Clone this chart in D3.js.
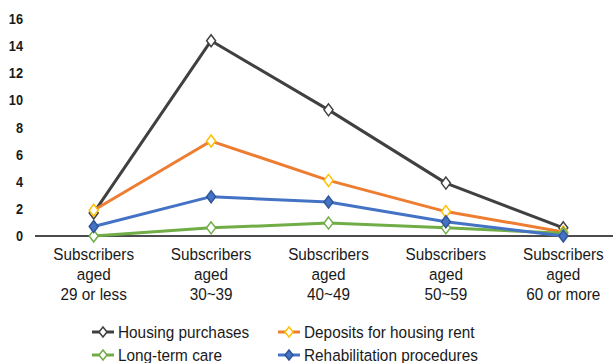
<!DOCTYPE html>
<html>
<head>
<meta charset="utf-8">
<script src="https://cdn.jsdelivr.net/npm/d3@7"></script>
<style>
  body { margin: 0; background: #fff; }
  text { font-family: "Liberation Sans", Arial, sans-serif; fill: #1a1a1a; }
</style>
</head>
<body>
<script>
var width = 613, height = 363

// data
var categories = ["29 or less", "30~39", "40~49", "50~59", "60 or more"]
var housing = [1.7, 14.4, 9.3, 3.9, 0.6]
var deposits = [1.9, 7.0, 4.1, 1.8, 0.3]
var longTerm = [0.0, 0.6, 0.95, 0.6, 0.2]
var rehab = [0.7, 2.9, 2.5, 1.05, 0.0]
var yTicks = [0, 2, 4, 6, 8, 10, 12, 14, 16]

var series = [
  {name: "Housing purchases", values: housing, line: "#404040", mark: "#404040", fill: "#fff"},
  {name: "Deposits for housing rent", values: deposits, line: "#ED7D31", mark: "#FFC000", fill: "#fff"},
  {name: "Long-term care", values: longTerm, line: "#70AD47", mark: "#70AD47", fill: "#fff"},
  {name: "Rehabilitation procedures", values: rehab, line: "#4472C4", mark: "#2F5597", fill: "#4472C4"}
]

var svg = d3.select("body").append("svg")
    .attr("width", width)
    .attr("height", height)

var x = d3.scaleBand().domain(categories).range([35, 622])
var y = d3.scaleLinear().domain([0, 16]).range([236, 19])
var cx = function(d) { return x(d) + x.bandwidth() / 2 }

var diamond = "M0,-6L4.5,0L0,6L-4.5,0Z"

// y tick labels
svg.append("g").selectAll("text")
  .data(yTicks)
  .enter().append("text")
  .attr("transform", function(d) { return "translate(23," + (y(d) + 5) + ") scale(0.85,1)" })
  .attr("text-anchor", "end")
  .style("font-weight", "bold")
  .style("font-size", "15px")
  .text(function(d) { return d })

// x axis line
svg.append("line")
  .attr("x1", 35).attr("x2", width)
  .attr("y1", y(0)).attr("y2", y(0))
  .attr("stroke", "#111").attr("stroke-width", 1.5)

// x labels, three rows each in one text
var xl = svg.append("g").selectAll("text")
  .data(categories)
  .enter().append("text")
  .attr("transform", function(d) { return "translate(" + cx(d) + ",260) scale(0.9,1)" })
  .attr("text-anchor", "middle")
  .style("font-size", "17px")

xl.each(function(d) {
  d3.select(this).selectAll("tspan")
    .data(["Subscribers", "aged", d])
    .enter().append("tspan")
    .attr("x", 0)
    .attr("dy", function(r, i) { return i ? 20 : 0 })
    .text(function(r) { return r })
})

// lines and markers
var line = d3.line()
  .x(function(d, i) { return cx(categories[i]) })
  .y(function(d) { return y(d) })

series.forEach(function(s) {
  svg.append("path")
    .datum(s.values)
    .attr("d", line)
    .attr("fill", "none")
    .attr("stroke", s.line)
    .attr("stroke-width", 3)
    .attr("stroke-linejoin", "round")

  svg.append("g").selectAll("path")
    .data(s.values)
    .enter().append("path")
    .attr("d", diamond)
    .attr("transform", function(d, i) { return "translate(" + cx(categories[i]) + "," + y(d) + ")" })
    .attr("fill", s.fill)
    .attr("stroke", s.mark)
    .attr("stroke-width", 1.5)
})

// legend
var legendPos = [[92, 332], [278, 332], [92, 355], [278, 355]]
var lg = svg.append("g").selectAll("g")
  .data(series)
  .enter().append("g")
  .attr("transform", function(d, i) { return "translate(" + legendPos[i][0] + "," + legendPos[i][1] + ")" })

lg.append("line")
  .attr("x1", 0).attr("x2", 22)
  .attr("stroke", function(d) { return d.line })
  .attr("stroke-width", 3)
lg.append("path")
  .attr("d", "M0,-5L4,0L0,5L-4,0Z")
  .attr("transform", "translate(11,0)")
  .attr("fill", function(d) { return d.fill })
  .attr("stroke", function(d) { return d.mark })
  .attr("stroke-width", 1.5)
lg.append("text")
  .attr("transform", "translate(26,6) scale(0.93,1)")
  .style("font-size", "16.5px")
  .text(function(d) { return d.name })
</script>
</body>
</html>
